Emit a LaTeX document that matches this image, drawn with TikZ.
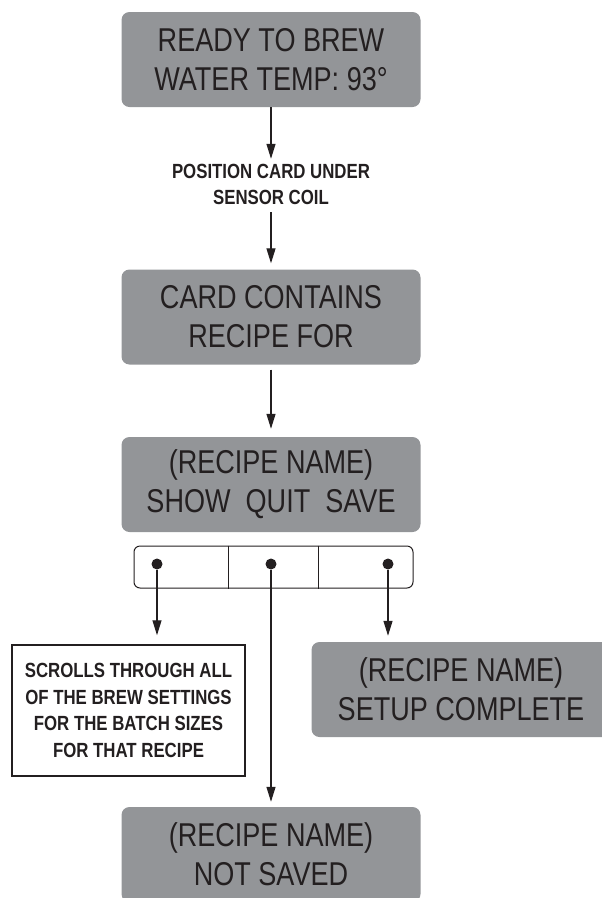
\documentclass[tikz,border=0pt]{standalone}
\usepackage{fontspec}
\usetikzlibrary{arrows.meta,calc}
\newfontfamily\condf[FakeStretch=0.82]{Liberation Sans}
\definecolor{lcdgray}{HTML}{939598}
\definecolor{ink}{HTML}{231F20}
\begin{document}
\begin{tikzpicture}[x=1pt,y=-1pt,
 lcd/.style={fill=lcdgray, rounded corners=8pt, minimum width=299pt, minimum height=95pt, inner sep=0pt, align=center, text=ink, font=\condf\fontsize{33}{39}\selectfont},
 note/.style={align=center, text=ink, inner sep=0pt, font=\condf\bfseries\fontsize{20.5}{26.5}\selectfont},
 conn/.style={draw=ink, line width=1.2pt, -{Triangle[length=15pt,width=9pt]}},
 dot/.style={circle, fill=ink, minimum size=11pt, inner sep=0pt}
]
\useasboundingbox (0,0) rectangle (602,898);
\clip (0,0) rectangle (602,898);
\node[lcd] (ready) at (271,59.5) {READY TO BREW\\WATER TEMP: 93°};
\node[note] (pos) at (271,184.5) {POSITION CARD UNDER\\SENSOR COIL};
\node[lcd] (card) at (271,317) {CARD CONTAINS\\RECIPE FOR};
\node[lcd] (recipe) at (271,484.5) {(RECIPE NAME)\\SHOW\ \ QUIT\ \ SAVE};
\node[draw=ink, line width=1pt, rounded corners=6pt, minimum width=279pt, minimum height=42pt, inner sep=0pt] (bar) at (273.5,567) {};
\draw[ink, line width=1pt] ($(bar.north west)!0.34!(bar.north east)$) -- ($(bar.south west)!0.34!(bar.south east)$);
\draw[ink, line width=1pt] ($(bar.north west)!0.66!(bar.north east)$) -- ($(bar.south west)!0.66!(bar.south east)$);
\node[dot] (dl) at (157,564) {};
\node[dot] (dm) at (271,564) {};
\node[dot] (dr) at (388,564) {};
\node[note, draw=ink, line width=1.5pt, minimum width=233pt, minimum height=131pt] (scroll) at (128.5,710.5) {SCROLLS THROUGH ALL\\OF THE BREW SETTINGS\\FOR THE BATCH SIZES\\FOR THAT RECIPE};
\node[lcd] (setup) at (461,689.5) {(RECIPE NAME)\\SETUP COMPLETE};
\node[lcd] (notsaved) at (271,854.5) {(RECIPE NAME)\\NOT SAVED};
\draw[conn, shorten >=5pt] (ready) -- (pos);
\draw[conn, shorten <=7pt, shorten >=6pt] (pos) -- (card);
\draw[conn, shorten <=5pt, shorten >=8pt] (card) -- (recipe);
\draw[conn, shorten >=9pt] (dl) -- (dl |- scroll.north);
\draw[conn, shorten >=5pt] (dm) -- (dm |- notsaved.north);
\draw[conn, shorten >=6pt] (dr) -- (dr |- setup.north);
\end{tikzpicture}
\end{document}
